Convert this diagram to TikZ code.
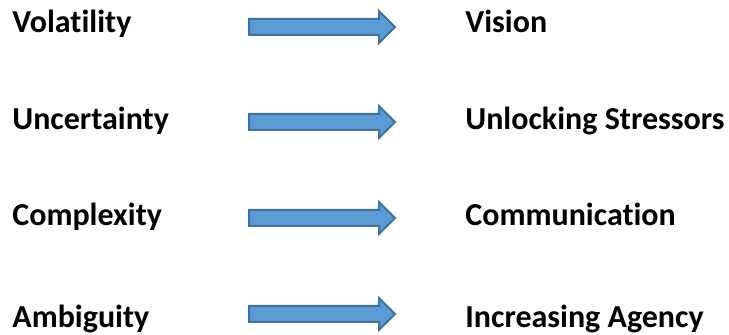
\documentclass[tikz,border=0pt]{standalone}
\usepackage{fontspec}
\setmainfont{Carlito}[Ligatures={NoCommon}]
\begin{document}
\begin{tikzpicture}[x=0.5pt,y=-0.5pt,
  lbl/.style={anchor=base west,inner sep=0pt,font=\fontsize{16}{18}\selectfont\bfseries},
  blockarrow/.style={fill=arrowfill,draw=arrowedge,line width=1pt,line join=miter}]
\definecolor{arrowfill}{HTML}{5B9BD5}
\definecolor{arrowedge}{HTML}{41719C}
\useasboundingbox (0,0) rectangle (729,335);
\newcommand{\blockarr}[1]{%
  \draw[blockarrow] (249,#1-8) -- (379,#1-8) -- (379,#1-16) -- (395,#1) -- (379,#1+16) -- (379,#1+8) -- (249,#1+8) -- cycle;}
\node[lbl] (l1) at (12,33) {Volatility};
\node[lbl] (l2) at (12,130) {Uncertainty};
\node[lbl] (l3) at (12,226) {Complexity};
\node[lbl] (l4) at (12,328) {Ambiguity};
\node[lbl] (r1) at (465,33) {Vision};
\node[lbl] (r2) at (465,130) {Unlocking Stressors};
\node[lbl] (r3) at (465,226) {Communication};
\node[lbl] (r4) at (465,328) {Increasing Agency};
\blockarr{27}
\blockarr{122}
\blockarr{218}
\blockarr{314}
\end{tikzpicture}
\end{document}
